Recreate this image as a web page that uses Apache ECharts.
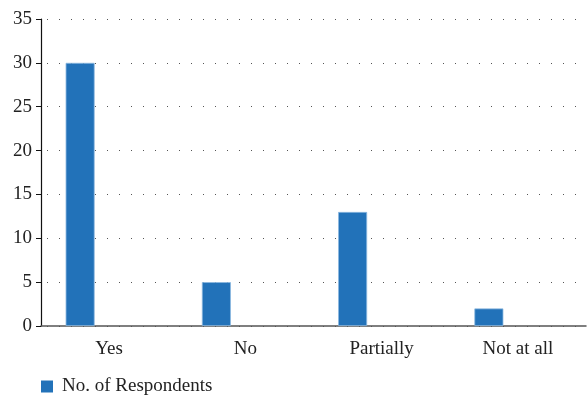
<!DOCTYPE html>
<html>
<head>
<meta charset="utf-8">
<script src="https://cdn.jsdelivr.net/npm/echarts@6/dist/echarts.min.js"></script>
<style>
  html, body { margin: 0; padding: 0; background: #fff; }
  #chart0 { width: 587px; height: 401px; }
</style>
</head>
<body>
<div id="chart0"></div>
<script>
var categories = ['Yes', 'No', 'Partially', 'Not at all']
var respondents = [30, 5, 13, 2]
var seriesName = 'No. of Respondents'

var chart0 = echarts.init(document.getElementById('chart0'))
var font = '"Liberation Serif", "DejaVu Serif", serif'
var option0 = {
  animation: false,
  textStyle: { fontFamily: font },
  grid: { left: 41, right: 1, top: 19, bottom: 75 },
  legend: {
    data: [seriesName],
    left: 36,
    bottom: 0,
    icon: 'rect',
    itemWidth: 12,
    itemHeight: 12,
    itemGap: 10,
    itemStyle: { borderWidth: 0 },
    textStyle: { fontFamily: font, fontSize: 19, color: '#222', padding: [0, 0, 0, 4] }
  },
  xAxis: {
    type: 'category',
    data: categories,
    axisLine: { lineStyle: { color: '#555', width: 1.5 } },
    axisTick: { alignWithLabel: false, length: 5, lineStyle: { color: '#333' } },
    axisLabel: { fontFamily: font, fontSize: 19, color: '#222', margin: 14 }
  },
  yAxis: {
    type: 'value',
    min: 0,
    max: 35,
    interval: 5,
    axisLine: { show: true, lineStyle: { color: '#111', width: 1.2 } },
    axisTick: { show: true, length: 5, lineStyle: { color: '#111' } },
    axisLabel: { fontFamily: font, fontSize: 19, color: '#222', margin: 9 },
    splitLine: { lineStyle: { color: '#555', type: [1, 11], dashOffset: -6, width: 1 } }
  },
  series: [{
    name: seriesName,
    type: 'bar',
    data: respondents,
    barWidth: 29,
    barGap: '100%',
    itemStyle: { color: '#2272b9', borderColor: '#8cb8e0', borderWidth: 0.8 }
  }, {
    name: 'blank',
    type: 'bar',
    data: categories.map(function () { return null }),
    barWidth: 29
  }]
}
chart0.setOption(option0)
</script>
</body>
</html>
